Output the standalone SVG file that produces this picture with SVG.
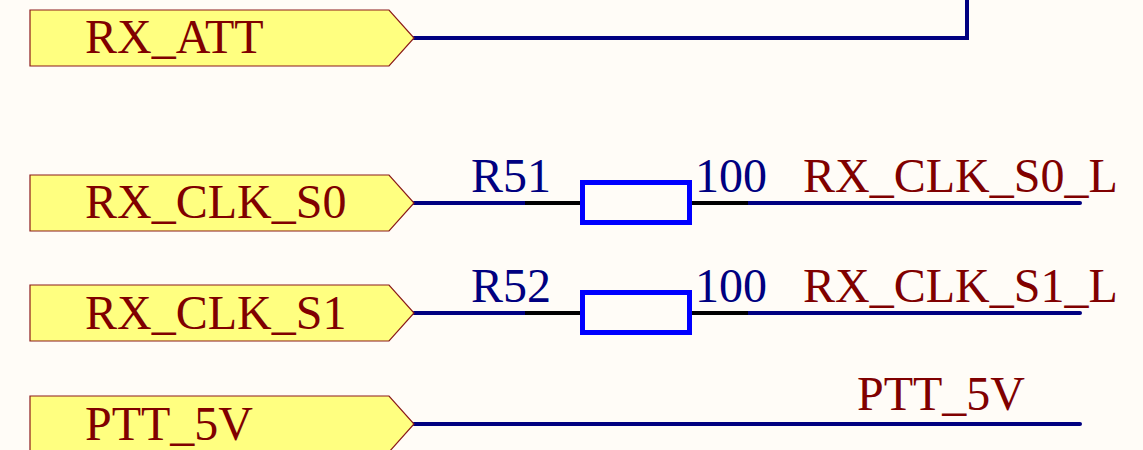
<svg xmlns="http://www.w3.org/2000/svg" width="1143" height="450" viewBox="0 0 1143 450">
<style>
.port{fill:#FFFF80;stroke:#8B1A1A;stroke-width:1.2}
.lbl{font-family:"Liberation Serif","Times New Roman",serif;font-size:48px;fill:#800000}
.des{font-family:"Liberation Serif","Times New Roman",serif;font-size:48px;fill:#000080}
.wire{stroke:#000080;stroke-width:4;fill:none;stroke-linecap:round}
.lead{stroke:#000000;stroke-width:4;fill:none}
.body{fill:none;stroke:#0000FF;stroke-width:5}
</style>
<rect width="1143" height="450" fill="#FFFCF7"/>
<g id="connectors">
<polyline class="wire" points="414,38 967,38 967,-5"/>
<line class="wire" x1="414" y1="203" x2="525" y2="203"/>
<line class="wire" x1="748" y1="203" x2="1080" y2="203"/>
<line class="wire" x1="414" y1="313" x2="525" y2="313"/>
<line class="wire" x1="748" y1="313" x2="1080" y2="313"/>
<line class="wire" x1="414" y1="424" x2="1080" y2="424"/>
</g>
<g id="port-rx-att">
<polygon class="port" points="30,10 389,10 414,38 389,66 30,66"/>
<text class="lbl" x="85" y="53">RX_ATT</text>
</g>
<g id="port-rx-clk-s0">
<polygon class="port" points="30,175 389,175 414,203 389,231 30,231"/>
<text class="lbl" x="85" y="218">RX_CLK_S0</text>
</g>
<g id="port-rx-clk-s1">
<polygon class="port" points="30,285 389,285 414,313 389,341 30,341"/>
<text class="lbl" x="85" y="329">RX_CLK_S1</text>
</g>
<g id="port-ptt-5v">
<polygon class="port" points="30,396 389,396 414,424 389,452 30,452"/>
<text class="lbl" x="85" y="440">PTT_5V</text>
</g>
<g id="R51">
<line class="lead" x1="525" y1="203" x2="582" y2="203"/>
<line class="lead" x1="690" y1="203" x2="748" y2="203"/>
<rect class="body" x="582.5" y="182.5" width="107" height="40"/>
<text class="des" x="471" y="192">R51</text>
<text class="des" x="695" y="192">100</text>
</g>
<g id="R52">
<line class="lead" x1="525" y1="313" x2="582" y2="313"/>
<line class="lead" x1="690" y1="313" x2="748" y2="313"/>
<rect class="body" x="582.5" y="292.5" width="107" height="40"/>
<text class="des" x="471" y="302">R52</text>
<text class="des" x="695" y="302">100</text>
</g>
<g id="net-labels">
<text class="lbl" x="803" y="192">RX_CLK_S0_L</text>
<text class="lbl" x="803" y="302">RX_CLK_S1_L</text>
<text class="lbl" x="857" y="410">PTT_5V</text>
</g>
</svg>
